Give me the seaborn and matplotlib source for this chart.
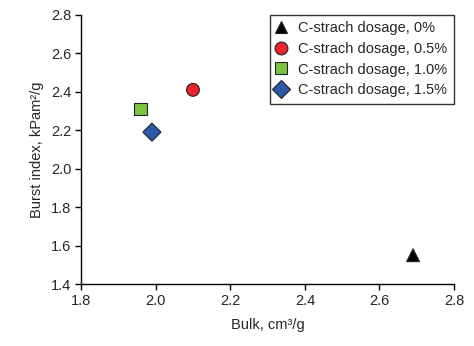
import matplotlib
matplotlib.use("Agg")
import matplotlib.pyplot as plt
import seaborn as sns
import pandas as pd

labels = ["C-strach dosage, 0%", "C-strach dosage, 0.5%", "C-strach dosage, 1.0%", "C-strach dosage, 1.5%"]
bulk = [2.69, 2.10, 1.96, 1.99]
burst = [1.55, 2.41, 2.31, 2.19]
markers = ["^", "o", "s", "D"]
colors = ["#000000", "#E8252B", "#7CC243", "#2B5BA8"]

sns.set_style("white")
plt.rcParams["font.family"] = ["Liberation Sans", "DejaVu Sans"]

df = pd.DataFrame({"Bulk": bulk, "Burst": burst, "Dosage": labels})

fig = plt.figure(figsize=(4.74, 3.46), dpi=100)
ax = fig.add_axes([0.171, 0.179, 0.787, 0.778])

sns.scatterplot(data=df, x="Bulk", y="Burst", hue="Dosage", style="Dosage",
                palette=dict(zip(labels, colors)), markers=dict(zip(labels, markers)),
                hue_order=labels, style_order=labels,
                s=85, edgecolor="#222222", linewidth=0.8, ax=ax)

fs = 10.5
ax.set_xlim(1.8, 2.8)
ax.set_ylim(1.4, 2.8)
ax.set_xticks([1.8, 2.0, 2.2, 2.4, 2.6, 2.8])
ax.set_yticks([1.4, 1.6, 1.8, 2.0, 2.2, 2.4, 2.6, 2.8])
ax.set_xticklabels(["1.8", "2.0", "2.2", "2.4", "2.6", "2.8"])
ax.set_yticklabels(["1.4", "1.6", "1.8", "2.0", "2.2", "2.4", "2.6", "2.8"])
ax.set_xlabel("Bulk, cm³/g", fontsize=fs, labelpad=7)
ax.set_ylabel("Burst index, kPam²/g", fontsize=fs, labelpad=5)
ax.tick_params(axis="both", labelsize=fs, direction="out", length=4, width=1,
               color="black", bottom=True, left=True, pad=3)
for side in ["top", "right"]:
    ax.spines[side].set_visible(False)
for side in ["left", "bottom"]:
    ax.spines[side].set_color("black")
    ax.spines[side].set_linewidth(1)

leg = ax.legend(loc="upper right", bbox_to_anchor=(1.0, 1.0), frameon=True, fancybox=False,
                edgecolor="black", fontsize=fs, handletextpad=0.9, borderpad=0.45,
                labelspacing=0.45, markerscale=1.0, borderaxespad=0, handlelength=0.6)
leg.get_frame().set_linewidth(1)
leg.set_title(None)

fig.savefig("out.png", dpi=100)
